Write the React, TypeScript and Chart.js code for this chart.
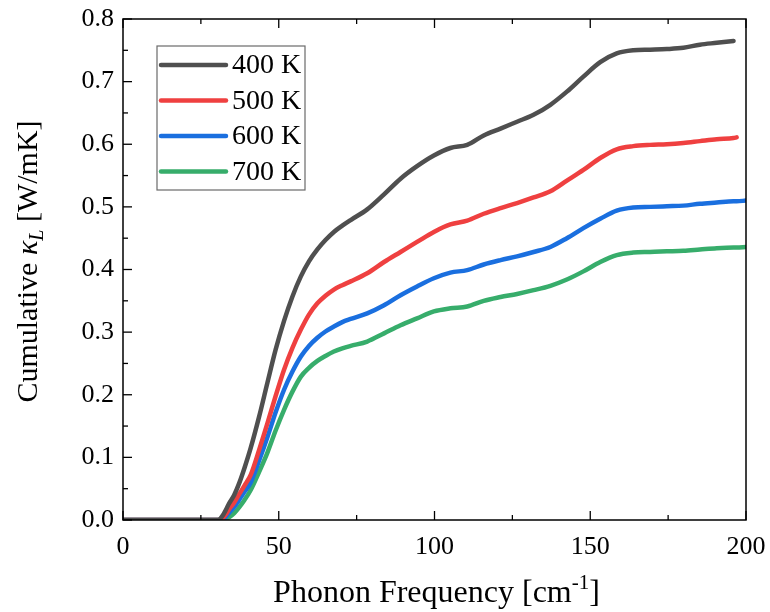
import React, { useEffect, useRef } from "react";
import { Chart, registerables } from "chart.js";

Chart.register(...registerables);

const freq = [0, 10, 20, 30, 31, 32, 33, 34, 35.7, 37.4, 39, 41, 43.7, 46.4, 49, 51.7, 54.4, 57.1, 59.7, 62.4, 65, 67.7, 70.4, 73.1, 78.4, 83.8, 89.1, 94.4, 99.8, 105.1, 110.5, 115.8, 121.2, 126.5, 131.8, 137.2, 142.5, 147.8, 153.2, 158.5, 163.8, 169.2, 174.6, 179.9, 185.2, 190.6, 196, 197, 200];

const k400 = [0, 0, 0, 0, 0.001, 0.007, 0.016, 0.026, 0.04, 0.06, 0.083, 0.115, 0.165, 0.22, 0.272, 0.318, 0.357, 0.389, 0.413, 0.432, 0.447, 0.46, 0.47, 0.479, 0.496, 0.52, 0.545, 0.565, 0.582, 0.594, 0.599, 0.614, 0.625, 0.636, 0.647, 0.663, 0.684, 0.708, 0.731, 0.745, 0.75, 0.751, 0.752, 0.754, 0.759, 0.762, 0.765, null, null];
const k500 = [0, 0, 0, 0, 0, 0.003, 0.009, 0.017, 0.028, 0.042, 0.055, 0.072, 0.112, 0.155, 0.198, 0.24, 0.275, 0.304, 0.328, 0.346, 0.358, 0.368, 0.375, 0.381, 0.394, 0.412, 0.428, 0.444, 0.46, 0.472, 0.478, 0.489, 0.498, 0.506, 0.515, 0.525, 0.542, 0.559, 0.578, 0.592, 0.597, 0.599, 0.6, 0.602, 0.605, 0.608, 0.61, 0.611, null];
const k600 = [0, 0, 0, 0, 0, 0.001, 0.005, 0.011, 0.021, 0.033, 0.045, 0.06, 0.095, 0.133, 0.172, 0.208, 0.237, 0.261, 0.278, 0.291, 0.301, 0.309, 0.316, 0.321, 0.33, 0.343, 0.359, 0.373, 0.386, 0.395, 0.399, 0.408, 0.415, 0.421, 0.428, 0.436, 0.45, 0.466, 0.481, 0.494, 0.499, 0.5, 0.501, 0.502, 0.505, 0.507, 0.509, 0.509, 0.51];
const k700 = [0, 0, 0, 0, 0, 0, 0.001, 0.004, 0.011, 0.021, 0.032, 0.048, 0.077, 0.108, 0.143, 0.176, 0.205, 0.229, 0.243, 0.254, 0.262, 0.269, 0.274, 0.278, 0.285, 0.298, 0.311, 0.322, 0.333, 0.338, 0.341, 0.35, 0.356, 0.361, 0.367, 0.374, 0.384, 0.397, 0.412, 0.423, 0.427, 0.428, 0.429, 0.43, 0.432, 0.434, 0.435, 0.435, 0.436];

const seriesLabels = ["400 K", "500 K", "600 K", "700 K"];
const seriesColors = ["#4f4f4f", "#ef4040", "#1a6fdf", "#37ad6b"];
const seriesValues = [k400, k500, k600, k700];

const xMajor = [0, 50, 100, 150, 200];
const xMinor = [25, 75, 125, 175];
const yMajor = [0, 0.1, 0.2, 0.3, 0.4, 0.5, 0.6, 0.7, 0.8];
const yMinor = [0.05, 0.15, 0.25, 0.35, 0.45, 0.55, 0.65, 0.75];

const FONT = "'Liberation Serif', 'Times New Roman', serif";

const decorPlugin = {
  id: "decor",
  afterDraw(chart: any) {
    const ctx = chart.ctx;
    const a = chart.chartArea;
    const xs = chart.scales.x;
    const ys = chart.scales.y;
    ctx.save();
    ctx.strokeStyle = "#000";
    ctx.lineWidth = 1.5;
    ctx.strokeRect(a.left, a.top, a.right - a.left, a.bottom - a.top);
    ctx.lineWidth = 1.3;
    const tick = (x1: number, y1: number, x2: number, y2: number) => {
      ctx.beginPath();
      ctx.moveTo(x1, y1);
      ctx.lineTo(x2, y2);
      ctx.stroke();
    };
    xMajor.forEach((v) => {
      const p = xs.getPixelForValue(v);
      tick(p, a.bottom, p, a.bottom - 9);
      tick(p, a.top, p, a.top + 9);
    });
    xMinor.forEach((v) => {
      const p = xs.getPixelForValue(v);
      tick(p, a.bottom, p, a.bottom - 5);
      tick(p, a.top, p, a.top + 5);
    });
    yMajor.forEach((v) => {
      const p = ys.getPixelForValue(v);
      tick(a.left, p, a.left + 9, p);
    });
    yMinor.forEach((v) => {
      const p = ys.getPixelForValue(v);
      tick(a.left, p, a.left + 5, p);
    });

    // legend
    const lx = 157, ly = 46, lw = 148, lh = 144;
    ctx.strokeStyle = "#6a6a6a";
    ctx.lineWidth = 1.2;
    ctx.strokeRect(lx, ly, lw, lh);
    ctx.font = `28px ${FONT}`;
    ctx.textBaseline = "middle";
    ctx.textAlign = "left";
    chart.data.datasets.forEach((ds: any, i: number) => {
      const y = 65 + i * 35.5;
      ctx.strokeStyle = ds.borderColor;
      ctx.lineWidth = 4.5;
      ctx.lineCap = "round";
      ctx.beginPath();
      ctx.moveTo(161, y);
      ctx.lineTo(226, y);
      ctx.stroke();
      ctx.fillStyle = "#000";
      ctx.fillText(ds.label, 232, y + 1);
    });

    // x title
    ctx.fillStyle = "#000";
    ctx.textBaseline = "alphabetic";
    const xt1 = "Phonon Frequency [cm";
    const sup = "-1";
    const xt3 = "]";
    ctx.font = `32px ${FONT}`;
    const w1 = ctx.measureText(xt1).width;
    const w3 = ctx.measureText(xt3).width;
    ctx.font = `21px ${FONT}`;
    const w2 = ctx.measureText(sup).width;
    const total = w1 + w2 + w3;
    const cx = (a.left + a.right) / 2 + 2;
    const x0 = cx - total / 2;
    const by = 602;
    ctx.font = `32px ${FONT}`;
    ctx.fillText(xt1, x0, by);
    ctx.font = `21px ${FONT}`;
    ctx.fillText(sup, x0 + w1, by - 13);
    ctx.font = `32px ${FONT}`;
    ctx.fillText(xt3, x0 + w1 + w2, by);

    // y title
    ctx.save();
    const cy = (a.top + a.bottom) / 2 - 8;
    ctx.translate(37, cy);
    ctx.rotate(-Math.PI / 2);
    const parts = [
      { t: "Cumulative ", f: `30px ${FONT}`, dy: 0 },
      { t: "\u03BA", f: `italic 30px ${FONT}`, dy: 0 },
      { t: "L", f: `italic 20px ${FONT}`, dy: 6 },
      { t: " [W/mK]", f: `30px ${FONT}`, dy: 0 },
    ];
    let tw = 0;
    parts.forEach((p) => {
      ctx.font = p.f;
      tw += ctx.measureText(p.t).width;
    });
    let px = -tw / 2;
    parts.forEach((p) => {
      ctx.font = p.f;
      ctx.fillText(p.t, px, p.dy);
      px += ctx.measureText(p.t).width;
    });
    ctx.restore();
    ctx.restore();
  },
};

export default function App() {
  const ref = useRef<HTMLCanvasElement>(null);
  useEffect(() => {
    if (!ref.current) return;
    const datasets = seriesValues.map((vals, i) => ({
      label: seriesLabels[i],
      data: freq.map((f, j) => ({ x: f, y: vals[j] })),
      borderColor: seriesColors[i],
      backgroundColor: seriesColors[i],
      borderWidth: 4.5,
      pointRadius: 0,
      cubicInterpolationMode: "monotone" as const,
      borderCapStyle: "round" as const,
      borderJoinStyle: "round" as const,
      spanGaps: false,
    }));
    const chart = new Chart(ref.current, {
      type: "line",
      data: { datasets: datasets as any },
      options: {
        animation: false,
        responsive: false,
        maintainAspectRatio: false,
        layout: { padding: { left: 0, top: 19, right: 24, bottom: 0 } },
        plugins: { legend: { display: false }, tooltip: { enabled: false } },
        scales: {
          x: {
            type: "linear",
            min: 0,
            max: 200,
            grid: { display: false, drawTicks: false },
            border: { display: false },
            ticks: {
              stepSize: 50,
              padding: 12,
              color: "#000",
              font: { family: FONT, size: 26 },
              maxRotation: 0,
            },
            afterFit: (s: any) => {
              s.height = 92;
              s.paddingLeft = 0;
              s.paddingRight = 0;
            },
          },
          y: {
            min: 0,
            max: 0.8,
            grid: { display: false, drawTicks: false },
            border: { display: false },
            ticks: {
              stepSize: 0.1,
              padding: 9,
              color: "#000",
              font: { family: FONT, size: 26 },
              callback: (v: any) => Number(v).toFixed(1),
            },
            afterFit: (s: any) => {
              s.width = 123;
              s.paddingTop = 0;
              s.paddingBottom = 0;
            },
          },
        },
      },
      plugins: [decorPlugin],
    });
    return () => chart.destroy();
  }, []);
  return (
    <div style={{ position: "fixed", left: 0, top: 0, width: 770, height: 612, background: "#fff" }}>
      <canvas ref={ref} width={770} height={612} style={{ width: 770, height: 612 }} />
    </div>
  );
}
